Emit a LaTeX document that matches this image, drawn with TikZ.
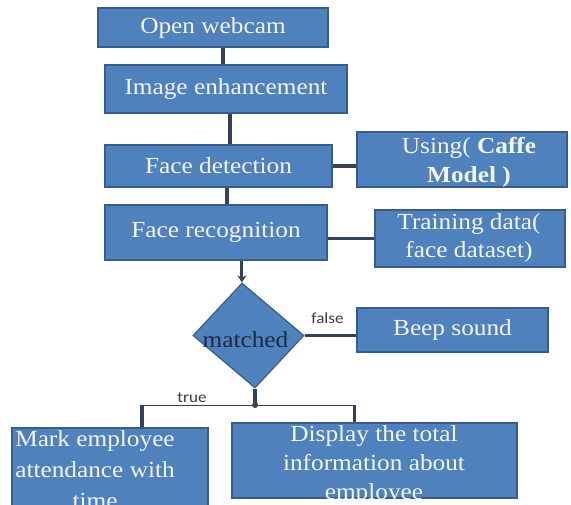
\documentclass[tikz,border=0pt]{standalone}
\usepackage{fontspec}
\setmainfont{Liberation Serif}[FakeStretch=1.1]
\newfontfamily\lblfont{Carlito}[FakeStretch=1.1]
\usetikzlibrary{shapes.geometric,arrows.meta}
\definecolor{boxfill}{HTML}{4F81BD}
\definecolor{boxline}{HTML}{385D8A}
\definecolor{boxtext}{HTML}{F2F5FB}
\definecolor{conncol}{HTML}{34425A}
\definecolor{lblcol}{HTML}{3C3C3C}
\definecolor{dtext}{HTML}{1E2A44}
\begin{document}
\begin{tikzpicture}[x=1pt,y=-1pt,
  box/.style={rectangle, draw=boxline, line width=1.2pt, fill=boxfill, text=boxtext,
    inner sep=0pt, align=center, font={\fontsize{23}{29}\selectfont}},
  txt/.style={text=boxtext, inner sep=0pt, align=center, font={\fontsize{23}{29}\selectfont}},
  dia/.style={diamond, draw=boxline, line width=1.2pt, fill=boxfill, inner sep=0pt},
  conn/.style={draw=conncol, line width=3.5pt},
  thinconn/.style={draw=conncol, line width=1pt},
  lbl/.style={text=lblcol, inner sep=0pt, font={\lblfont\fontsize{15.5}{18}\selectfont}}]
\useasboundingbox (0,0) rectangle (571,504);
\fill[white] (0,0) rectangle (571,504);

% boxes
\node[box, minimum width=230pt, minimum height=39pt] (open) at (213,27.5) {Open webcam};
\node[box, minimum width=242pt, minimum height=48pt] (enh) at (226,89) {Image enhancement};
\node[box, minimum width=227pt, minimum height=42pt] (det) at (218.5,166) {Face detection};
\node[box, minimum width=210pt, minimum height=55pt] (caffe) at (462,159.5) {};
\node[txt] (caffeT) at (469,162) {Using( \textbf{Caffe}\\\textbf{Model )}};
\node[box, minimum width=222pt, minimum height=55pt] (rec) at (216,232.5) {Face recognition};
\node[box, minimum width=190pt, minimum height=57pt] (train) at (470,238.5) {};
\node[txt, font={\fontsize{23}{28}\selectfont}] (trainT) at (469,237.5) {Training data(\\face dataset)};
\node[box, minimum width=191pt, minimum height=44pt] (beep) at (452.5,330) {Beep sound};
\node[dia, minimum width=111pt, minimum height=105pt, xslant=-0.124] (dia) at (248.5,335.5) {};
\node[text=dtext, inner sep=0pt, font={\fontsize{23}{29}\selectfont}] (diaT) at (245.5,340) {matched};
\node[box, minimum width=196pt, minimum height=92pt] (mark) at (110,474) {};
\node[txt, font={\fontsize{23}{31}\selectfont}] (markT) at (95,470) {Mark employee\\attendance with\\time};
\node[box, minimum width=285pt, minimum height=75pt] (disp) at (374.5,460.5) {};
\begin{scope}
  \clip (disp.south west) rectangle (disp.north east);
  \node[txt] (dispT) at (374,465) {Display the total\\information about\\employee};
\end{scope}

% connectors
\draw[conn] ([xshift=10pt]open.south) -- ([xshift=10pt]open.south |- enh.north);
\draw[conn] ([xshift=4pt]enh.south) -- ([xshift=4pt]enh.south |- det.north);
\draw[conn] ([xshift=8.5pt]det.south) -- ([xshift=8.5pt]det.south |- rec.north);
\draw[conn] (det.east) -- (det.east -| caffe.west);
\draw[conn] (rec.east |- train.west) -- (train.west);
\draw[draw=conncol, line width=3pt, -{Stealth[length=7pt,width=9pt]}] (rec.south -| dia.north) -- (dia.north);
\draw[draw=conncol, line width=3pt] (dia.east) -- (dia.east -| beep.west);

\coordinate (jl) at (142,405);
\coordinate (jr) at (354,405);
\draw[conn] (dia.south) -- (dia.south |- jl);
\fill[conncol] (dia.south |- jl) circle (3pt);
\draw[thinconn] ([xshift=-2pt]jl) -- (jr);
\draw[conn] (jl) -- (jl |- mark.north);
\draw[draw=conncol, line width=3pt] (jr) -- (jr |- disp.north);

% labels
\node[lbl] (falseL) at (327.5,318) {false};
\node[lbl] (trueL) at (192,398) {true};
\end{tikzpicture}
\end{document}
